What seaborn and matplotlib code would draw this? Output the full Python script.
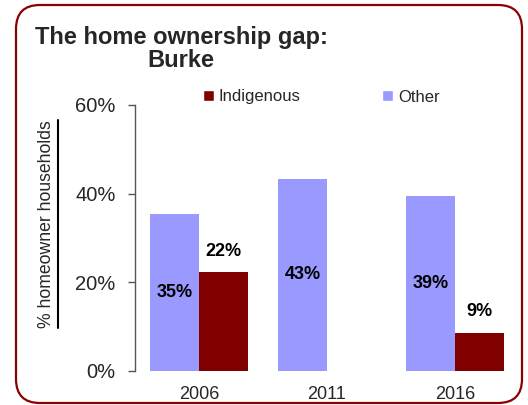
import matplotlib
matplotlib.use("Agg")
import matplotlib.pyplot as plt
from matplotlib.patches import FancyBboxPatch
from matplotlib.lines import Line2D
from matplotlib.patches import Patch
import numpy as np
import pandas as pd
import seaborn as sns

years = ["2006", "2011", "2016"]
other = [0.354, 0.434, 0.394]
indigenous = [0.223, np.nan, 0.086]
series = ["Other", "Indigenous"]
colors = {"Other": "#9999FF", "Indigenous": "#800000"}
yticks = [0.0, 0.2, 0.4, 0.6]
ytick_labels = ["0%", "20%", "40%", "60%"]

sns.set_theme(style="white")
plt.rcParams["font.family"] = ["Liberation Sans", "DejaVu Sans"]

df = pd.DataFrame({
    "year": years * 2,
    "group": ["Other"] * 3 + ["Indigenous"] * 3,
    "share": other + indigenous,
})

fig = plt.figure(figsize=(5.28, 4.05), dpi=100)
ax = fig.add_axes([135 / 528, 1 - 371 / 405, (519 - 135) / 528, (371 - 105) / 405])

sns.barplot(data=df, x="year", y="share", hue="group", hue_order=series,
            palette=colors, width=0.77, errorbar=None, saturation=1,
            linewidth=0, ax=ax, legend=False)

# value labels: inside for Other, above for Indigenous
for container, name in zip(ax.containers, series):
    vals = other if name == "Other" else indigenous
    for bar in container:
        x = bar.get_x() + bar.get_width() / 2
        v = vals[int(round(x))]
        if np.isnan(v):
            continue
        if name == "Other":
            ax.text(x, v / 2, f"{v * 100:.0f}%", ha="center", va="center",
                    fontsize=13, fontweight="bold", color="black")
        else:
            ax.annotate(f"{v * 100:.0f}%", (x, v), xytext=(0, 21),
                        textcoords="offset pixels", ha="center", va="center",
                        fontsize=13, fontweight="bold", color="black")

ax.set_ylim(0, 0.6)
ax.set_xlim(-0.5, 2.5)
ax.set_yticks(yticks)
ax.set_yticklabels(ytick_labels, fontsize=14.5)
ax.tick_params(axis="y", direction="out", length=5, width=1, color="#555555",
               pad=9, left=True)
ax.tick_params(axis="x", length=0, pad=11, labelsize=13)
ax.set_xlabel("")
ax.set_ylabel("")
for side in ["top", "right", "bottom"]:
    ax.spines[side].set_visible(False)
ax.spines["left"].set_color("#555555")
ax.spines["left"].set_linewidth(1)
ax.set_facecolor("none")

# y-axis title with underline
fig.text(47 / 528, 1 - 224 / 405, "% homeowner households", rotation=90,
         ha="center", va="center", fontsize=12.7)
fig.add_artist(Line2D([58 / 528, 58 / 528], [1 - 120 / 405, 1 - 328 / 405],
                      transform=fig.transFigure, color="black", lw=1.5))

# title
fig.text(181 / 528, 1 - 49 / 405, "The home ownership gap:\nBurke",
         ha="center", va="center", fontsize=17, fontweight="bold",
         linespacing=1.05)

# legend
handles = [Patch(facecolor=colors["Indigenous"], label="Indigenous"),
           Patch(facecolor=colors["Other"], label="Other")]
fig.legend(handles=handles, loc="center left",
           bbox_to_anchor=(203 / 528, 1 - 97 / 405), ncol=2, frameon=False,
           fontsize=12, handlelength=0.65, handleheight=0.65,
           handletextpad=0.3, columnspacing=4.9, borderpad=0, borderaxespad=0)

# rounded frame around the chart
frame = FancyBboxPatch((0.16, 0.02), 5.06, 3.98,
                       boxstyle="round,pad=0,rounding_size=0.24",
                       transform=fig.dpi_scale_trans, fill=False,
                       edgecolor="#8B0000", lw=1.6, zorder=10)
fig.add_artist(frame)

fig.savefig("out.png", dpi=100)
